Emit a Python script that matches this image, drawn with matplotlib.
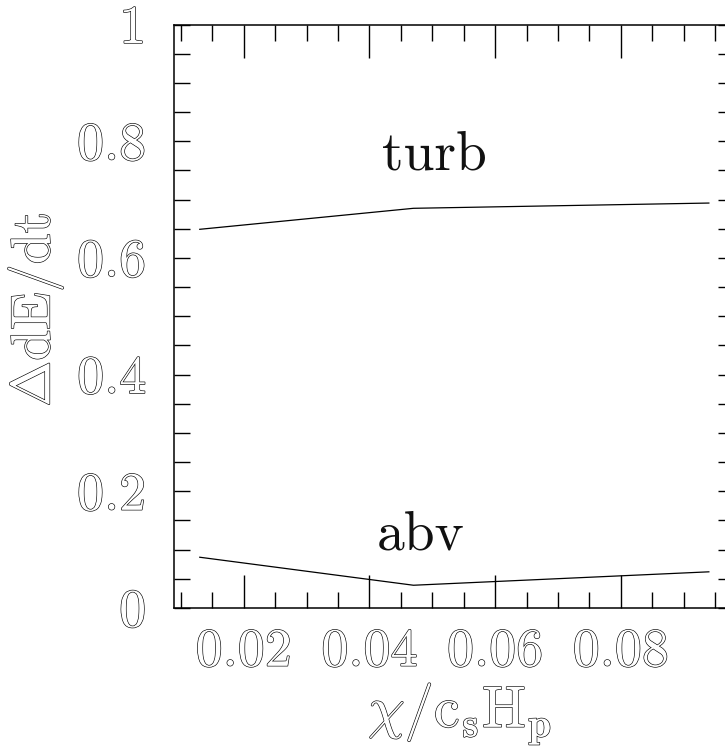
import matplotlib
matplotlib.use("Agg")
import matplotlib.pyplot as plt
import matplotlib.patheffects as pe
from matplotlib.ticker import MultipleLocator

plt.rcParams['font.family'] = 'cmr10'
plt.rcParams['mathtext.fontset'] = 'cm'
plt.rcParams['axes.formatter.use_mathtext'] = True

# diffusivity chi/(c_s H_p) and the energy-rate differences
chi = [0.013, 0.047, 0.094]
turb = [0.649, 0.685, 0.694]
abv = [0.087, 0.039, 0.062]

x_ticks = [0.02, 0.04, 0.06, 0.08]
x_tick_labels = ['0.02', '0.04', '0.06', '0.08']
y_ticks = [0, 0.2, 0.4, 0.6, 0.8, 1]
y_tick_labels = ['0', '0.2', '0.4', '0.6', '0.8', '1']

# double-stroke look for the numbers and axis titles
hollow = [pe.withStroke(linewidth=0.9, foreground='black')]

fig = plt.figure(figsize=(7.25, 7.51), dpi=100)
ax = fig.add_axes([174 / 725, 143 / 751, 560 / 725, 583.5 / 751])

ax.plot(chi, turb, color='black', lw=0.9)
ax.plot(chi, abv, color='black', lw=0.9)

ax.text(0.0503, 0.751, 'turb', fontsize=40, ha='center', va='baseline', color='#111111')
ax.text(0.0481, 0.100, 'abv', fontsize=40, ha='center', va='baseline', color='#111111')

ax.set_xlim(0.0089, 0.098)
ax.set_ylim(0, 1)

ax.set_xticks(x_ticks)
ax.set_xticklabels(x_tick_labels)
ax.set_yticks(y_ticks)
ax.set_yticklabels(y_tick_labels)
ax.xaxis.set_minor_locator(MultipleLocator(0.005))
ax.yaxis.set_minor_locator(MultipleLocator(0.05))

ax.tick_params(which='both', direction='in', top=True, right=True, width=1.0)
ax.tick_params(which='major', axis='x', length=23.5)
ax.tick_params(which='major', axis='y', length=11.5)
ax.tick_params(which='minor', length=11.5)
ax.tick_params(axis='x', which='major', labelsize=39, pad=15)
ax.tick_params(axis='y', which='major', labelsize=39, pad=20)

for lbl in ax.get_xticklabels() + ax.get_yticklabels():
    lbl.set_color('white')
    lbl.set_path_effects(hollow)

for s in ax.spines.values():
    s.set_linewidth(1.1)

fig.text(35 / 725, 1 - 310 / 751, r'$\Delta\mathrm{dE/dt}$', rotation=90,
         fontsize=40, ha='center', va='center', color='white', path_effects=hollow)
fig.text(460 / 725, 1 - 714 / 751, r'$\chi/\mathrm{c}_\mathbf{s}\mathrm{H}_\mathbf{p}$',
         fontsize=42, ha='center', va='center', color='white', path_effects=hollow)

fig.savefig('out.png', dpi=100)
